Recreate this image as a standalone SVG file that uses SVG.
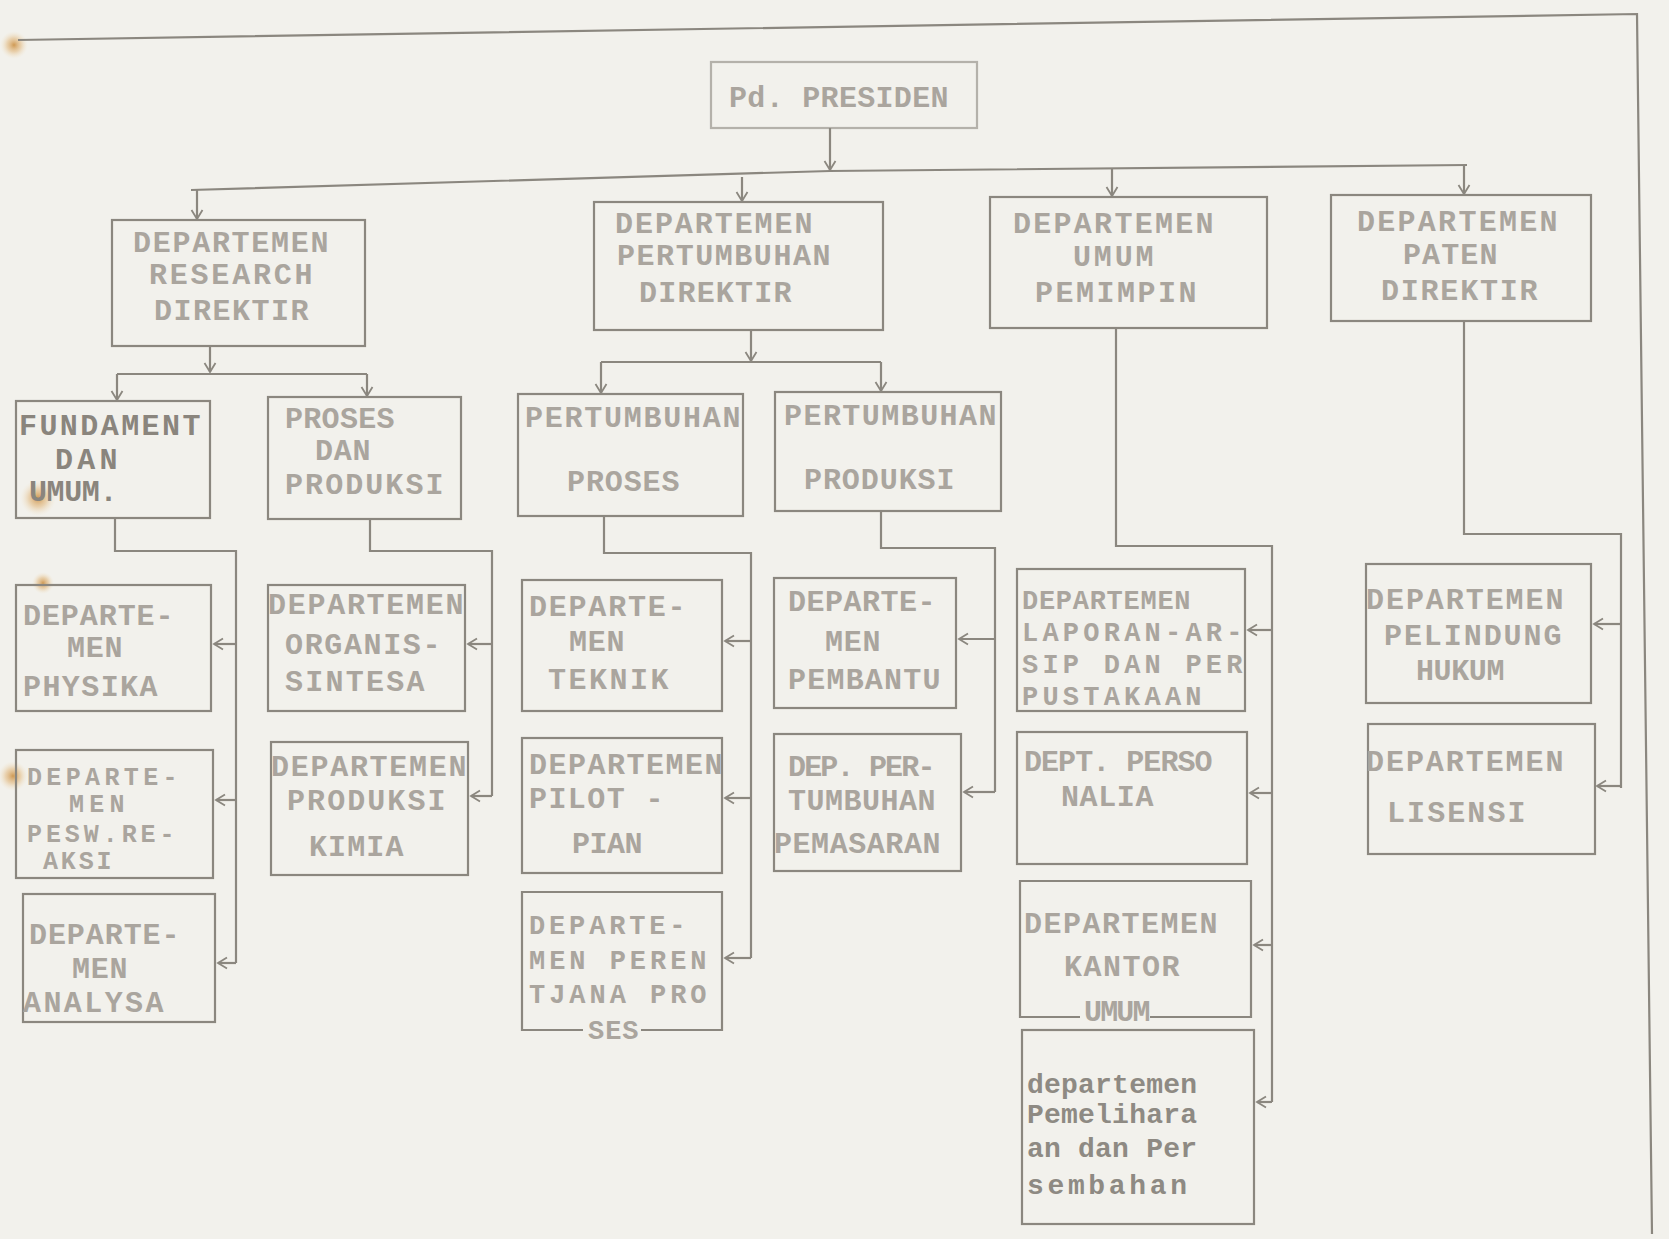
<svg xmlns="http://www.w3.org/2000/svg" width="1669" height="1239" viewBox="0 0 1669 1239">
<style>
.bx{fill:none;stroke:#8b877f;stroke-width:2.2}
.ln{fill:none;stroke:#8b877f;stroke-width:2.2}
.ar{marker-end:url(#ah)}
.t{font-family:"Liberation Mono","Courier New",monospace;font-weight:bold;font-size:30px;fill:#aaa59e;letter-spacing:1.5px}
.sm{font-size:25px}
.md{font-size:27px}
.lc{font-size:28px;letter-spacing:0px;fill:#8e8a83}
.dk{fill:#8a857d}
</style>
<defs>
<marker id="ah" viewBox="0 0 12 14" refX="10" refY="7" markerWidth="12" markerHeight="14" orient="auto" markerUnits="userSpaceOnUse">
<path d="M1,1.5 L10,7 L1,12.5" fill="none" stroke="#8b877f" stroke-width="1.8"/>
</marker>
<radialGradient id="rust">
<stop offset="0" stop-color="#c98a3a" stop-opacity="0.85"/>
<stop offset="0.5" stop-color="#e0b272" stop-opacity="0.5"/>
<stop offset="1" stop-color="#f2e2c4" stop-opacity="0"/>
</radialGradient>
</defs>
<rect width="1669" height="1239" fill="#f2f1ec"/>
<g id="stains">
<circle cx="14" cy="45" r="14" fill="url(#rust)"/>
<circle cx="38" cy="498" r="18" fill="url(#rust)"/>
<circle cx="43" cy="583" r="11" fill="url(#rust)"/>
<circle cx="13" cy="776" r="15" fill="url(#rust)"/>
</g>
<g id="frame">
<path class="ln" d="M18,40 L1637,14 L1652,1234"/>
</g>
<g id="connectors">
<path class="ln ar" d="M830,128 V170"/>
<path class="ln" d="M191,190 L830,171 L1467,165"/>
<path class="ln ar" d="M197,189 V219"/>
<path class="ln ar" d="M742,177 V201"/>
<path class="ln ar" d="M1112,168 V196"/>
<path class="ln ar" d="M1464,165 V194"/>
<path class="ln ar" d="M210,346 V372"/>
<path class="ln" d="M117,374 H367"/>
<path class="ln ar" d="M117,374 V400"/>
<path class="ln ar" d="M367,374 V396"/>
<path class="ln ar" d="M751,330 V361"/>
<path class="ln" d="M601,362 H881"/>
<path class="ln ar" d="M601,362 V393"/>
<path class="ln ar" d="M881,362 V391"/>
<path class="ln" d="M115,518 V551 H236 V963"/>
<path class="ln ar" d="M236,644 H214"/>
<path class="ln ar" d="M236,800 H216"/>
<path class="ln ar" d="M236,963 H218"/>
<path class="ln" d="M370,519 V551 H492 V796"/>
<path class="ln ar" d="M492,644 H468"/>
<path class="ln ar" d="M492,796 H471"/>
<path class="ln" d="M604,516 V553 H751 V958"/>
<path class="ln ar" d="M751,641 H725"/>
<path class="ln ar" d="M751,798 H725"/>
<path class="ln ar" d="M751,958 H725"/>
<path class="ln" d="M881,511 V548 H995 V792"/>
<path class="ln ar" d="M995,639 H959"/>
<path class="ln ar" d="M995,792 H964"/>
<path class="ln" d="M1116,328 V546 H1272 V1102"/>
<path class="ln ar" d="M1272,630 H1248"/>
<path class="ln ar" d="M1272,793 H1250"/>
<path class="ln ar" d="M1272,945 H1254"/>
<path class="ln ar" d="M1272,1102 H1257"/>
<path class="ln" d="M1464,321 V534 H1621 V788"/>
<path class="ln ar" d="M1621,624 H1594"/>
<path class="ln ar" d="M1621,786 H1597"/>
</g>
<g id="n-presiden">
<rect class="bx" x="711" y="62" width="266" height="66" stroke-opacity="0.6"/>
<text class="t" x="729" y="107" textLength="221">Pd. PRESIDEN</text>
</g>
<g id="n-research">
<rect class="bx" x="112" y="220" width="253" height="126"/>
<text class="t" x="133" y="252" textLength="197">DEPARTEMEN</text>
<text class="t" x="149" y="284" textLength="165">RESEARCH</text>
<text class="t" x="154" y="320" textLength="156">DIREKTIR</text>
</g>
<g id="n-pertumbuhan">
<rect class="bx" x="594" y="202" width="289" height="128"/>
<text class="t" x="615" y="233" textLength="199">DEPARTEMEN</text>
<text class="t" x="617" y="265" textLength="215">PERTUMBUHAN</text>
<text class="t" x="639" y="302" textLength="154">DIREKTIR</text>
</g>
<g id="n-umum">
<rect class="bx" x="990" y="197" width="277" height="131"/>
<text class="t" x="1013" y="233" textLength="202">DEPARTEMEN</text>
<text class="t" x="1073" y="266" textLength="82">UMUM</text>
<text class="t" x="1035" y="302" textLength="163">PEMIMPIN</text>
</g>
<g id="n-paten">
<rect class="bx" x="1331" y="195" width="260" height="126"/>
<text class="t" x="1357" y="231" textLength="202">DEPARTEMEN</text>
<text class="t" x="1403" y="264" textLength="96">PATEN</text>
<text class="t" x="1381" y="300" textLength="158">DIREKTIR</text>
</g>
<g id="n-fundament">
<rect class="bx" x="16" y="401" width="194" height="117"/>
<text class="t dk" x="19" y="435" textLength="183">FUNDAMENT</text>
<text class="t dk" x="55" y="469" textLength="64">DAN</text>
<text class="t dk" x="29" y="501" textLength="90">UMUM.</text>
</g>
<g id="n-proses-produksi">
<rect class="bx" x="268" y="397" width="193" height="122"/>
<text class="t" x="285" y="428" textLength="111">PROSES</text>
<text class="t" x="315" y="460" textLength="57">DAN</text>
<text class="t" x="285" y="494" textLength="160">PRODUKSI</text>
</g>
<g id="n-pert-proses">
<rect class="bx" x="518" y="394" width="225" height="122"/>
<text class="t" x="525" y="427" textLength="217">PERTUMBUHAN</text>
<text class="t" x="567" y="491" textLength="114">PROSES</text>
</g>
<g id="n-pert-produksi">
<rect class="bx" x="775" y="392" width="226" height="119"/>
<text class="t" x="784" y="425" textLength="214">PERTUMBUHAN</text>
<text class="t" x="804" y="489" textLength="152">PRODUKSI</text>
</g>
<g id="n-physika">
<rect class="bx" x="16" y="585" width="195" height="126"/>
<text class="t" x="23" y="625" textLength="152">DEPARTE-</text>
<text class="t" x="67" y="657" textLength="57">MEN</text>
<text class="t" x="23" y="696" textLength="136">PHYSIKA</text>
</g>
<g id="n-pesawat">
<rect class="bx" x="16" y="750" width="197" height="128"/>
<text class="t sm" x="27" y="785" textLength="152">DEPARTE-</text>
<text class="t sm" x="69" y="812" textLength="57">MEN</text>
<text class="t sm" x="27" y="842" textLength="149">PESW.RE-</text>
<text class="t sm" x="43" y="869" textLength="70">AKSI</text>
</g>
<g id="n-analysa">
<rect class="bx" x="23" y="894" width="192" height="128"/>
<text class="t" x="29" y="944" textLength="152">DEPARTE-</text>
<text class="t" x="72" y="978" textLength="57">MEN</text>
<text class="t" x="23" y="1012" textLength="142">ANALYSA</text>
</g>
<g id="n-organis">
<rect class="bx" x="268" y="585" width="197" height="126"/>
<text class="t" x="268" y="614" textLength="197">DEPARTEMEN</text>
<text class="t" x="285" y="654" textLength="157">ORGANIS-</text>
<text class="t" x="285" y="691" textLength="141">SINTESA</text>
</g>
<g id="n-kimia">
<rect class="bx" x="271" y="742" width="197" height="133"/>
<text class="t" x="271" y="776" textLength="197">DEPARTEMEN</text>
<text class="t" x="287" y="810" textLength="160">PRODUKSI</text>
<text class="t" x="309" y="856" textLength="96">KIMIA</text>
</g>
<g id="n-teknik">
<rect class="bx" x="522" y="580" width="200" height="131"/>
<text class="t" x="529" y="616" textLength="158">DEPARTE-</text>
<text class="t" x="569" y="651" textLength="57">MEN</text>
<text class="t" x="548" y="689" textLength="122">TEKNIK</text>
</g>
<g id="n-pilot">
<rect class="bx" x="522" y="738" width="200" height="135"/>
<text class="t" x="529" y="774" textLength="195">DEPARTEMEN</text>
<text class="t" x="529" y="808" textLength="136">PILOT -</text>
<text class="t" x="572" y="853" textLength="72">PIAN</text>
</g>
<g id="n-perencana">
<path class="bx" d="M583,1030 H522 V892 H722 V1030 H641"/>
<text class="t md" x="529" y="934" textLength="158">DEPARTE-</text>
<text class="t md" x="529" y="969" textLength="179">MEN PEREN</text>
<text class="t md" x="529" y="1003" textLength="179">TJANA PRO</text>
<text class="t md" x="588" y="1039" textLength="52">SES</text>
</g>
<g id="n-pembantu">
<rect class="bx" x="774" y="578" width="182" height="130"/>
<text class="t" x="788" y="611" textLength="149">DEPARTE-</text>
<text class="t" x="825" y="651" textLength="57">MEN</text>
<text class="t" x="788" y="689" textLength="154">PEMBANTU</text>
</g>
<g id="n-pemasaran">
<rect class="bx" x="774" y="734" width="187" height="137"/>
<text class="t" x="788" y="776" textLength="149">DEP. PER-</text>
<text class="t" x="788" y="810" textLength="149">TUMBUHAN</text>
<text class="t" x="774" y="853" textLength="168">PEMASARAN</text>
</g>
<g id="n-laporan">
<rect class="bx" x="1017" y="569" width="228" height="142"/>
<text class="t md" x="1022" y="609" textLength="170">DEPARTEMEN</text>
<text class="t md" x="1022" y="641" textLength="222">LAPORAN-AR-</text>
<text class="t md" x="1022" y="673" textLength="222">SIP DAN PER</text>
<text class="t md" x="1022" y="705" textLength="181">PUSTAKAAN</text>
</g>
<g id="n-personalia">
<rect class="bx" x="1017" y="732" width="230" height="132"/>
<text class="t" x="1024" y="771" textLength="190">DEPT. PERSO</text>
<text class="t" x="1061" y="806" textLength="94">NALIA</text>
</g>
<g id="n-kantor">
<path class="bx" d="M1080,1017 H1020 V881 H1251 V1017 H1150"/>
<text class="t" x="1024" y="933" textLength="195">DEPARTEMEN</text>
<text class="t" x="1064" y="976" textLength="117">KANTOR</text>
<text class="t" x="1084" y="1021" textLength="68">UMUM</text>
</g>
<g id="n-pemeliharaan">
<rect class="bx" x="1022" y="1030" width="232" height="194"/>
<text class="t lc" x="1027" y="1093" textLength="170">departemen</text>
<text class="t lc" x="1027" y="1123" textLength="170">Pemelihara</text>
<text class="t lc" x="1027" y="1157" textLength="170">an dan Per</text>
<text class="t lc" x="1027" y="1194" textLength="160">sembahan</text>
</g>
<g id="n-pelindung">
<rect class="bx" x="1366" y="564" width="225" height="139"/>
<text class="t" x="1366" y="609" textLength="199">DEPARTEMEN</text>
<text class="t" x="1384" y="645" textLength="179">PELINDUNG</text>
<text class="t" x="1416" y="680" textLength="90">HUKUM</text>
</g>
<g id="n-lisensi">
<rect class="bx" x="1368" y="724" width="227" height="130"/>
<text class="t" x="1366" y="771" textLength="199">DEPARTEMEN</text>
<text class="t" x="1387" y="822" textLength="140">LISENSI</text>
</g>
</svg>
